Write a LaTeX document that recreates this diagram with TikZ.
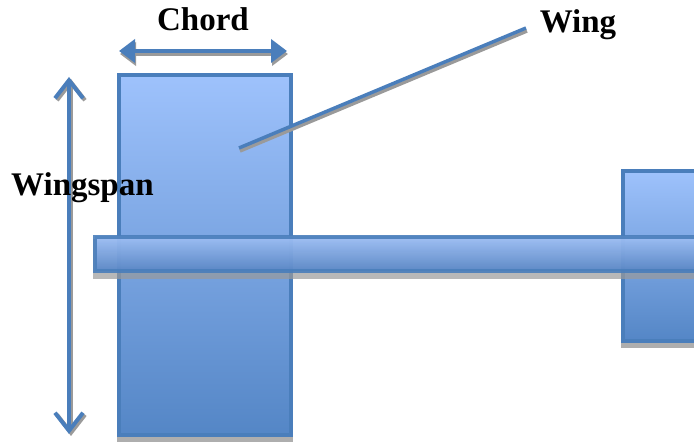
\documentclass[tikz,border=0pt]{standalone}
\usepackage{fontspec}
\setmainfont{Liberation Serif}
\usetikzlibrary{arrows.meta}
\definecolor{edgeblue}{HTML}{4A7EBB}
\definecolor{lighttop}{HTML}{9EC2FC}
\definecolor{darkbottom}{HTML}{5486C6}
\definecolor{bartop}{HTML}{9DC1FA}
\definecolor{barbottom}{HTML}{5585C8}
\definecolor{shadowgray}{HTML}{9A9A9A}
\tikzset{
  panel/.style={draw=edgeblue, line width=4pt, top color=lighttop, bottom color=darkbottom,
    inner sep=0pt, outer sep=0pt, anchor=north west},
  bar/.style={draw=edgeblue, line width=4pt, top color=bartop, bottom color=barbottom,
    fill opacity=0.9, draw opacity=0.9, inner sep=0pt, outer sep=0pt, anchor=north west},
  panelshadow/.style={fill=shadowgray, fill opacity=0.8, draw=none, inner sep=0pt, outer sep=0pt, anchor=north west},
  label/.style={font=\bfseries\fontsize{33}{33}\selectfont, inner sep=0pt, anchor=base},
  dimline/.style={draw=edgeblue, line width=4pt},
  dimshadow/.style={draw=shadowgray, line width=4pt},
  fathead/.style={{Triangle[length=16pt,width=23pt]}-{Triangle[length=16pt,width=23pt]}},
  barbhead/.style={{Straight Barb[length=18pt,width=28pt,line width=4pt]}-{Straight Barb[length=18pt,width=28pt,line width=4pt]}},
}
\begin{document}
\begin{tikzpicture}[x=1pt,y=-1pt]
\useasboundingbox (0,0) rectangle (694,443);
\clip (0,0) rectangle (694,443);

% drop shadows of the two panels
\node[panelshadow, minimum width=176pt, minimum height=366pt] (wingshadow) at (117,76) {};
\node[panelshadow, minimum width=100pt, minimum height=176pt] (tailshadow) at (621,172) {};

% main wing and tail plane
\node[panel, minimum width=172pt, minimum height=360pt] (wing) at (119,75) {};
\node[panel, minimum width=100pt, minimum height=170pt] (tail) at (623,171) {};

% fuselage, slightly see-through
\node[panelshadow, fill opacity=0.7, minimum width=640pt, minimum height=40pt] (bodyshadow) at (93,239) {};
\node[bar, minimum width=640pt, minimum height=34pt] (body) at (95,237) {};

% chord dimension
\coordinate (chordL) at (119,51);
\coordinate (chordR) at (287,51);
\draw[dimshadow, fathead, draw=shadowgray, fill=shadowgray, transform canvas={shift={(1pt,-3pt)}}] (chordL) -- (chordR);
\draw[dimline, fathead, fill=edgeblue] (chordL) -- (chordR);
\node[label] (chord) at (203,31) {Chord};

% wingspan dimension
\coordinate (spanT) at (69,77);
\coordinate (spanB) at (69,434);
\draw[dimshadow, barbhead, transform canvas={shift={(2pt,-2pt)}}] (spanT) -- (spanB);
\draw[dimline, barbhead] (spanT) -- (spanB);
\node[label, anchor=base west] (span) at (11,196) {Wingspan};

% wing callout
\coordinate (calloutA) at (239,148);
\coordinate (calloutB) at (526,28);
\draw[dimshadow, line width=3.5pt, transform canvas={shift={(1pt,-3pt)}}] (calloutA) -- (calloutB);
\draw[dimline, line width=3.5pt] (calloutA) -- (calloutB);
\node[label] (winglabel) at (578,33) {Wing};
\end{tikzpicture}
\end{document}
